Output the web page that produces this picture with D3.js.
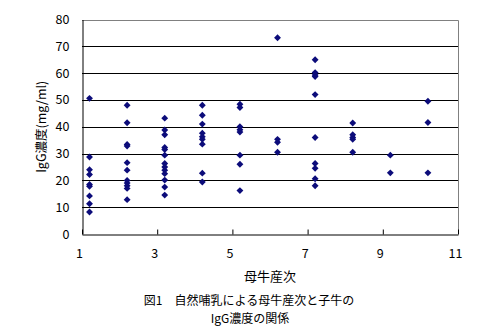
<!DOCTYPE html>
<html>
<head>
<meta charset="utf-8">
<script src="https://cdn.jsdelivr.net/npm/d3@7"></script>
<style>
  body { margin: 0; background: #fff; }
  svg text { font-family: "MS PGothic", "Noto Sans CJK JP", sans-serif; fill: #000; }
</style>
</head>
<body>
<div id="chart"></div>
<script>
// 母牛産次 (x position of each column) and IgG values read per column
const parity = [1.2, 2.2, 3.2, 4.2, 5.2, 6.2, 7.2, 8.2, 9.2, 10.2];
const igg1 = [50.6, 28.7, 24, 22.2, 18.5, 17.8, 14.2, 11.3, 8.2];
const igg2 = [48, 41.5, 33.4, 32.8, 26.6, 23.8, 20, 19, 18, 17, 12.8];
const igg3 = [43.2, 38.8, 37, 32.3, 31.5, 29.4, 26.3, 25, 23.8, 22.5, 20.1, 17.5, 14.5];
const igg4 = [48, 44.3, 41, 37.6, 36.3, 35.3, 33.5, 22.7, 19.4];
const igg5 = [48.4, 47.2, 40, 38.9, 38, 29.4, 26, 16.2];
const igg6 = [73.2, 35.3, 34.2, 30.5];
const igg7 = [65, 60.2, 59.3, 58.7, 52, 36, 26.3, 24.5, 20.6, 18];
const igg8 = [41.4, 37, 36, 35.3, 30.5];
const igg9 = [29.4, 22.8];
const igg10 = [49.5, 41.6, 22.8];
const xTicks = [1, 3, 5, 7, 9, 11];
const yTicks = [0, 10, 20, 30, 40, 50, 60, 70, 80];

const groups = [igg1, igg2, igg3, igg4, igg5, igg6, igg7, igg8, igg9, igg10];
const points = [];
groups.forEach(function (vals, i) {
    vals.forEach(function (v) { points.push({ x: parity[i], y: v }); });
});

const width = 486, height = 335;
const margin = { left: 82, right: 28, top: 19.5, bottom: 101 };

const svg = d3.select("#chart").append("svg")
    .attr("width", width)
    .attr("height", height);

const x = d3.scaleLinear().domain([1, 11]).range([margin.left, width - margin.right]);
const y = d3.scaleLinear().domain([0, 80]).range([height - margin.bottom, margin.top]);

// gridlines
svg.append("g")
    .selectAll("line")
    .data(yTicks.filter(d => d > 0 && d < 80))
    .enter().append("line")
    .attr("x1", x(1)).attr("x2", x(11))
    .attr("y1", d => Math.round(y(d)) + 0.5)
    .attr("y2", d => Math.round(y(d)) + 0.5)
    .attr("stroke", "#000")
    .attr("stroke-width", 1);

// gray frame top/right
const frameTop = Math.round(y(80)) + 0.5, frameRight = Math.round(x(11)) + 0.5;
svg.append("path")
    .attr("d", "M" + x(1) + "," + frameTop + "H" + frameRight + "V" + y(0))
    .attr("fill", "none")
    .attr("stroke", "#808080");

// y axis
const yAxis = svg.append("g")
    .attr("transform", "translate(" + (Math.round(x(1)) + 0.5) + ",0)")
    .call(d3.axisLeft(y).tickValues(yTicks).tickSize(0).tickPadding(13));
yAxis.select(".domain").attr("stroke", "#000");
yAxis.selectAll("text").style("font-size", "12.5px").attr("fill", "#000");

// x axis, ticks pointing inward
const xAxis = svg.append("g")
    .attr("transform", "translate(0," + (Math.round(y(0)) + 0.5) + ")")
    .call(d3.axisBottom(x).tickValues(xTicks).tickSize(-5).tickPadding(15).tickSizeOuter(0));
xAxis.select(".domain").attr("stroke", "#000");
xAxis.selectAll(".tick line").attr("stroke", "#000");
xAxis.selectAll("text").style("font-size", "12.5px").attr("fill", "#000").attr("dx", -3);

// points
svg.append("g")
    .selectAll("path")
    .data(points)
    .enter().append("path")
    .attr("d", d3.symbol().type(d3.symbolDiamond2).size(30))
    .attr("transform", d => "translate(" + x(d.x) + "," + y(d.y) + ")")
    .attr("fill", "#0c0c7a");

// axis titles
svg.append("text")
    .attr("x", (x(1) + x(11)) / 2)
    .attr("y", 281)
    .attr("text-anchor", "middle")
    .style("font-size", "13px")
    .text("母牛産次");

svg.append("text")
    .attr("transform", "translate(46," + ((y(0) + y(80)) / 2) + ") rotate(-90)")
    .attr("text-anchor", "middle")
    .style("font-size", "12.5px")
    .text("IgG濃度(mg/ml)");

// caption
svg.append("text")
    .attr("x", 249)
    .attr("y", 304.5)
    .attr("text-anchor", "middle")
    .style("font-size", "12px")
    .text("図1　自然哺乳による母牛産次と子牛の");
svg.append("text")
    .attr("x", 250)
    .attr("y", 322.5)
    .attr("text-anchor", "middle")
    .style("font-size", "12px")
    .text("IgG濃度の関係");
</script>
</body>
</html>
